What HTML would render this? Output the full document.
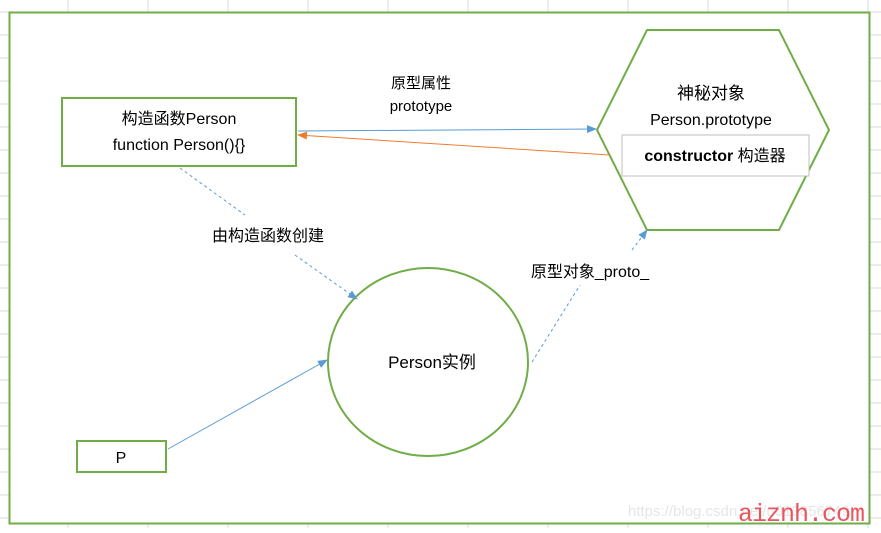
<!DOCTYPE html>
<html><head><meta charset="utf-8"><style>
body{margin:0;width:881px;height:528px;overflow:hidden;background:#fff}
text{font-family:"Liberation Sans","Noto Sans CJK SC",sans-serif;fill:#000}
</style></head><body>
<svg width="881" height="528" viewBox="0 0 881 528" xmlns="http://www.w3.org/2000/svg">
<defs>
<marker id="ab" markerWidth="10" markerHeight="8" refX="9" refY="4" orient="auto" markerUnits="userSpaceOnUse"><path d="M0,0 L10,4 L0,8 z" fill="#5b9bd5"/></marker>
<marker id="ao" markerWidth="10" markerHeight="8" refX="9" refY="4" orient="auto" markerUnits="userSpaceOnUse"><path d="M0,0 L10,4 L0,8 z" fill="#ed7d31"/></marker>
</defs>
<g stroke="#d9d9d9" stroke-width="1">
<line x1="68" y1="0" x2="68" y2="528"/><line x1="148" y1="0" x2="148" y2="528"/><line x1="228" y1="0" x2="228" y2="528"/>
<line x1="308" y1="0" x2="308" y2="528"/><line x1="388" y1="0" x2="388" y2="528"/><line x1="468" y1="0" x2="468" y2="528"/>
<line x1="548" y1="0" x2="548" y2="528"/><line x1="628" y1="0" x2="628" y2="528"/><line x1="708" y1="0" x2="708" y2="528"/>
<line x1="788" y1="0" x2="788" y2="528"/><line x1="868" y1="0" x2="868" y2="528"/>
<line x1="0" y1="12" x2="881" y2="12"/><line x1="0" y1="35" x2="881" y2="35"/><line x1="0" y1="58" x2="881" y2="58"/>
<line x1="0" y1="81" x2="881" y2="81"/><line x1="0" y1="104" x2="881" y2="104"/><line x1="0" y1="127" x2="881" y2="127"/>
<line x1="0" y1="150" x2="881" y2="150"/><line x1="0" y1="173" x2="881" y2="173"/><line x1="0" y1="196" x2="881" y2="196"/>
<line x1="0" y1="219" x2="881" y2="219"/><line x1="0" y1="242" x2="881" y2="242"/><line x1="0" y1="265" x2="881" y2="265"/>
<line x1="0" y1="288" x2="881" y2="288"/><line x1="0" y1="311" x2="881" y2="311"/><line x1="0" y1="334" x2="881" y2="334"/>
<line x1="0" y1="357" x2="881" y2="357"/><line x1="0" y1="380" x2="881" y2="380"/><line x1="0" y1="403" x2="881" y2="403"/>
<line x1="0" y1="426" x2="881" y2="426"/><line x1="0" y1="449" x2="881" y2="449"/><line x1="0" y1="472" x2="881" y2="472"/>
<line x1="0" y1="495" x2="881" y2="495"/><line x1="0" y1="518" x2="881" y2="518"/>
</g>
<rect x="9.5" y="12.5" width="860" height="511" fill="#fff" stroke="#70ad47" stroke-width="2"/>
<rect x="62" y="98" width="234" height="68" fill="#fff" stroke="#70ad47" stroke-width="2"/>
<text x="179" y="124" font-size="16" text-anchor="middle">构造函数Person</text>
<text x="179" y="150" font-size="16" text-anchor="middle">function Person(){}</text>
<polygon points="647,30 779,30 829,130 779,230 647,230 597,130" fill="#fff" stroke="#70ad47" stroke-width="2"/>
<text x="711" y="99" font-size="17" text-anchor="middle">神秘对象</text>
<text x="711" y="125" font-size="16" text-anchor="middle">Person.prototype</text>
<rect x="622" y="135" width="187" height="41" fill="#fff" stroke="#bfbfbf" stroke-width="1"/>
<text x="715" y="161" font-size="16" text-anchor="middle"><tspan font-weight="bold">constructor</tspan> 构造器</text>
<ellipse cx="428" cy="362" rx="100" ry="94" fill="#fff" stroke="#70ad47" stroke-width="2"/>
<text x="432" y="368" font-size="17" text-anchor="middle">Person实例</text>
<rect x="77" y="441" width="89" height="31" fill="#fff" stroke="#70ad47" stroke-width="2"/>
<text x="121" y="463" font-size="16" text-anchor="middle">P</text>
<line x1="298" y1="131" x2="596" y2="129" stroke="#5b9bd5" stroke-width="1" marker-end="url(#ab)"/>
<line x1="610" y1="155" x2="298" y2="135" stroke="#ed7d31" stroke-width="1" marker-end="url(#ao)"/>
<text x="421" y="88" font-size="15" text-anchor="middle">原型属性</text>
<text x="421" y="111" font-size="15" text-anchor="middle">prototype</text>
<line x1="180" y1="168" x2="245" y2="215" stroke="#5b9bd5" stroke-dasharray="3,3"/>
<line x1="295" y1="255" x2="357" y2="299" stroke="#5b9bd5" stroke-dasharray="3,3" marker-end="url(#ab)"/>
<text x="268" y="241" font-size="16" text-anchor="middle">由构造函数创建</text>
<line x1="532" y1="362" x2="580" y2="285" stroke="#5b9bd5" stroke-dasharray="3,3"/>
<line x1="632" y1="250" x2="647" y2="230" stroke="#5b9bd5" stroke-dasharray="3,3" marker-end="url(#ab)"/>
<text x="590" y="277" font-size="16" text-anchor="middle">原型对象_proto_</text>
<line x1="168" y1="449" x2="327" y2="360" stroke="#5b9bd5" stroke-width="1" marker-end="url(#ab)"/>
<text x="628" y="516" font-size="15" style="fill:#e6e6e6">https://blog.csdn.net/u013856749</text>
<text x="738" y="521" font-size="25" style="fill:#e8565f;font-family:'Liberation Mono',monospace" letter-spacing="-1">aiznh.com</text>
</svg>
</body></html>
